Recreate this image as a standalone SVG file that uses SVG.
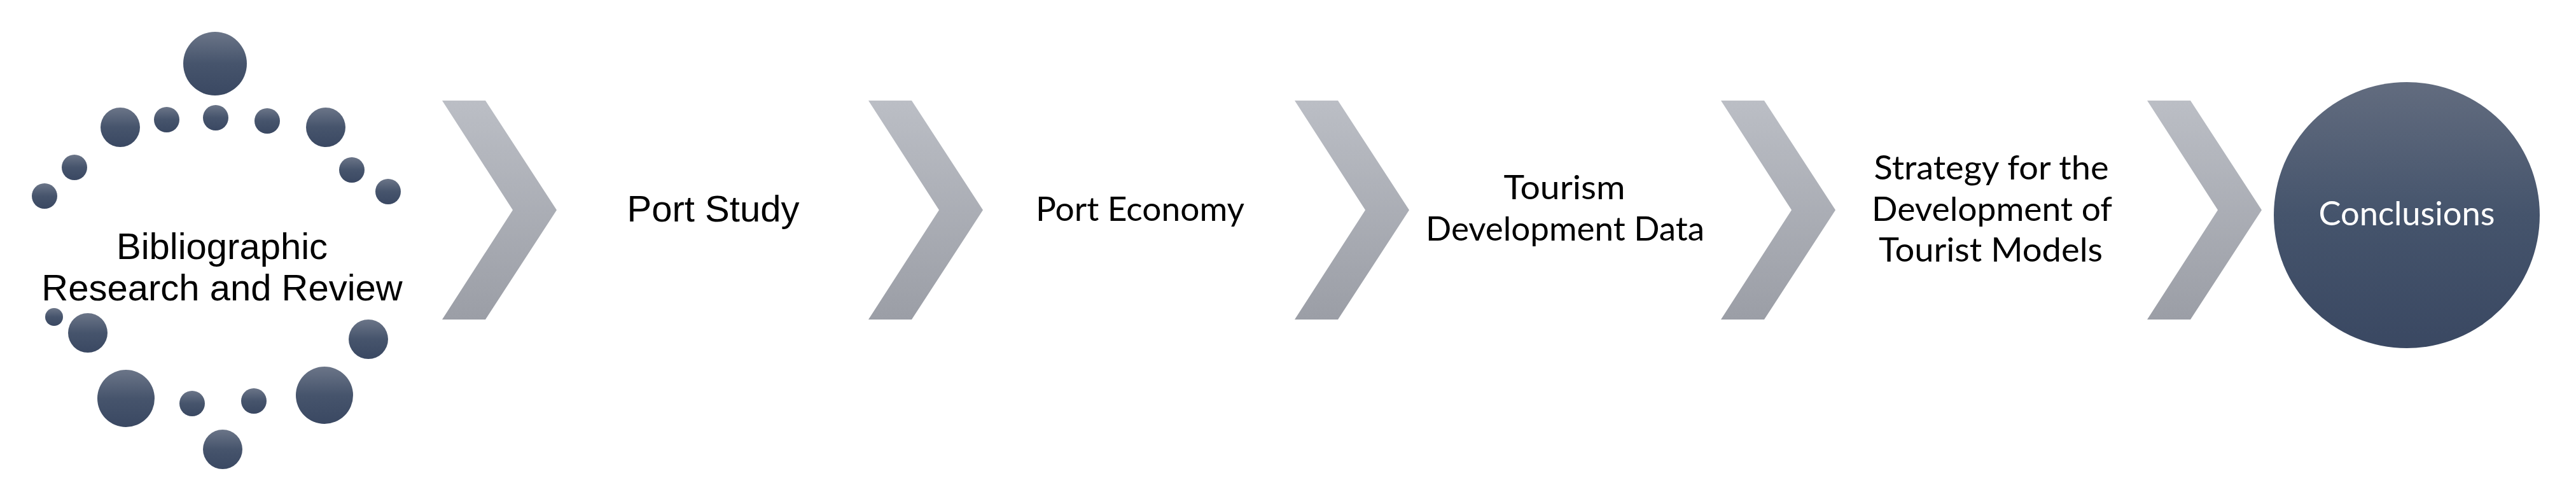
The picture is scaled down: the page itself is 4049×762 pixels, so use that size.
<svg xmlns="http://www.w3.org/2000/svg" width="4049" height="762" viewBox="0 0 4049 762">
  <defs>
    <linearGradient id="gDot" x1="0" y1="0" x2="0" y2="1">
      <stop offset="0" stop-color="#6b7588"/>
      <stop offset="0.5" stop-color="#46546c"/>
      <stop offset="1" stop-color="#3a4862"/>
    </linearGradient>
    <linearGradient id="gConc" x1="0" y1="0" x2="0" y2="1">
      <stop offset="0" stop-color="#626c7f"/>
      <stop offset="0.5" stop-color="#45546c"/>
      <stop offset="1" stop-color="#3a4862"/>
    </linearGradient>
    <linearGradient id="gChev" x1="0" y1="0" x2="0" y2="1">
      <stop offset="0" stop-color="#bbbec5"/>
      <stop offset="1" stop-color="#9b9ea6"/>
    </linearGradient>
    <path id="chev" d="M0,158 L68,158 L180,330 L68,502 L0,502 L111,330 Z"/>
  </defs>
  <style>
    .dot { fill: url(#gDot); }
    .chev { fill: url(#gChev); }
    .arial { font-family: "Liberation Sans", Arial, sans-serif; font-size: 58px; fill: #000; text-anchor: middle; }
    .cal { font-family: Lato, "Open Sans", sans-serif; font-size: 53px; fill: #000; text-anchor: middle; }
    .calw { font-family: Lato, "Open Sans", sans-serif; font-size: 53px; fill: #fff; text-anchor: middle; }
  </style>
  <rect width="4049" height="762" fill="#ffffff"/>

  <g id="node-bibliographic">
    <circle class="dot" cx="338" cy="100" r="50"/>
    <circle class="dot" cx="189" cy="200" r="31"/>
    <circle class="dot" cx="262" cy="188" r="20"/>
    <circle class="dot" cx="339" cy="185" r="20"/>
    <circle class="dot" cx="420" cy="190" r="20"/>
    <circle class="dot" cx="512" cy="200" r="31"/>
    <circle class="dot" cx="117" cy="263" r="20"/>
    <circle class="dot" cx="70" cy="308" r="20"/>
    <circle class="dot" cx="553" cy="267" r="20"/>
    <circle class="dot" cx="610" cy="301" r="20"/>
    <circle class="dot" cx="85" cy="498" r="14"/>
    <circle class="dot" cx="138" cy="523" r="31"/>
    <circle class="dot" cx="579" cy="533" r="31"/>
    <circle class="dot" cx="198" cy="626" r="45"/>
    <circle class="dot" cx="302" cy="634" r="20"/>
    <circle class="dot" cx="399" cy="630" r="20"/>
    <circle class="dot" cx="510" cy="621" r="45"/>
    <circle class="dot" cx="350" cy="706" r="31"/>
    <text class="arial" x="349" y="407">Bibliographic</text>
    <text class="arial" x="349" y="472">Research and Review</text>
  </g>

  <g id="node-port-study">
    <text class="arial" x="1121" y="348">Port Study</text>
  </g>

  <g id="node-port-economy">
    <text class="cal" x="1792" y="347" textLength="328" lengthAdjust="spacingAndGlyphs">Port Economy</text>
  </g>

  <g id="node-tourism">
    <text class="cal" x="2459" y="313" textLength="191" lengthAdjust="spacingAndGlyphs">Tourism</text>
    <text class="cal" x="2460" y="378" textLength="438" lengthAdjust="spacingAndGlyphs">Development Data</text>
  </g>

  <g id="node-strategy">
    <text class="cal" x="3130" y="282" textLength="369" lengthAdjust="spacingAndGlyphs">Strategy for the</text>
    <text class="cal" x="3131" y="347" textLength="378" lengthAdjust="spacingAndGlyphs">Development of</text>
    <text class="cal" x="3129" y="411" textLength="352" lengthAdjust="spacingAndGlyphs">Tourist Models</text>
  </g>

  <g id="node-conclusions">
    <circle cx="3783" cy="338" r="209" fill="url(#gConc)"/>
    <text class="calw" x="3783" y="354" textLength="277" lengthAdjust="spacingAndGlyphs">Conclusions</text>
  </g>

  <g id="connectors">
    <use href="#chev" class="chev" x="695"/>
    <use href="#chev" class="chev" x="1365"/>
    <use href="#chev" class="chev" x="2035"/>
    <use href="#chev" class="chev" x="2705"/>
    <use href="#chev" class="chev" x="3375"/>
  </g>
</svg>
